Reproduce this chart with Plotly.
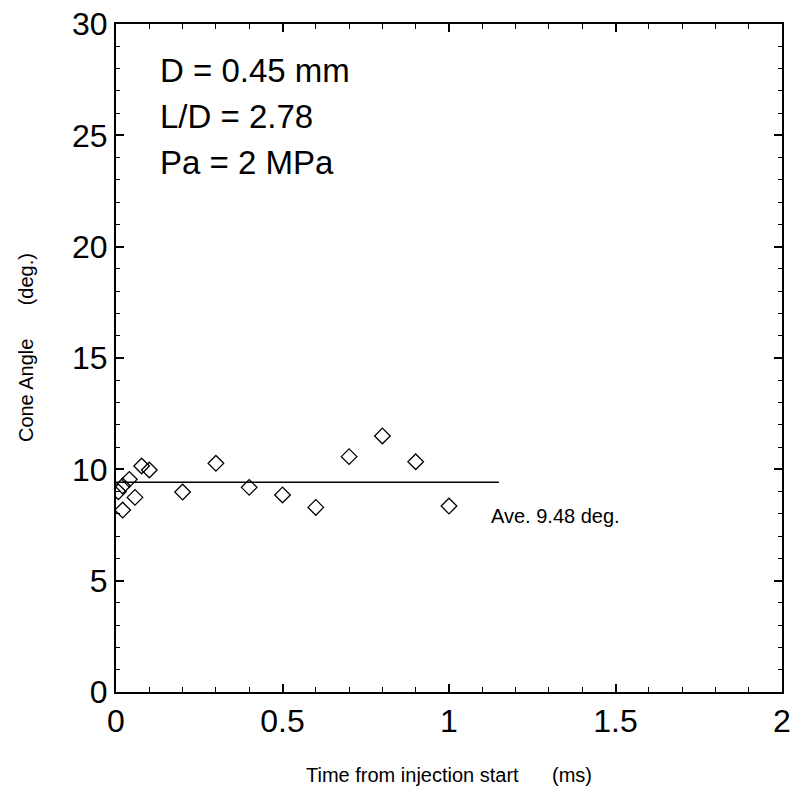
import plotly.graph_objects as go

# Data
time_ms = [0.007, 0.02, 0.04, 0.057, 0.02, 0.077, 0.10, 0.2, 0.3, 0.4, 0.5, 0.6, 0.7, 0.8, 0.9, 1.0]
cone_angle = [8.99, 9.25, 9.55, 8.74, 8.17, 10.15, 9.97, 8.98, 10.27, 9.19, 8.85, 8.29, 10.57, 11.50, 10.34, 8.35]
avg_x = [0.0, 1.15]
avg_y = [9.42, 9.42]
avg_label = "Ave. 9.48 deg."
info_lines = ["D = 0.45 mm", "L/D = 2.78", "Pa = 2 MPa"]
x_ticks = [0, 0.5, 1, 1.5, 2]
x_tick_text = ["0", "0.5", "1", "1.5", "2"]
y_ticks = [0, 5, 10, 15, 20, 25, 30]

FONT = "Liberation Sans, Arial, sans-serif"

fig = go.Figure()
fig.add_trace(go.Scatter(x=avg_x, y=avg_y, mode="lines",
                         line=dict(color="black", width=1.5), showlegend=False))
fig.add_trace(go.Scatter(x=time_ms, y=cone_angle, mode="markers",
                         marker=dict(symbol="diamond-open", size=12, color="black",
                                     line=dict(width=1.3, color="black")),
                         showlegend=False))

fig.add_annotation(x=1.12, y=7.9, xref="x", yref="y", text=avg_label, showarrow=False,
                   xanchor="left", yanchor="middle", font=dict(family=FONT, size=20, color="black"))

for i, t in enumerate(info_lines):
    fig.add_annotation(x=0.126, y=27.9 - i * 2.07, xref="x", yref="y", text=t, showarrow=False,
                       xanchor="left", yanchor="middle", font=dict(family=FONT, size=33, color="black"))

fig.add_annotation(x=0.5, y=-0.124, xref="paper", yref="paper",
                   text="Time from injection start&nbsp;&nbsp;&nbsp;&nbsp;&nbsp;&nbsp;(ms)",
                   showarrow=False, xanchor="center", yanchor="middle",
                   font=dict(family=FONT, size=20, color="black"))
fig.add_annotation(x=-0.134, y=0.516, xref="paper", yref="paper",
                   text="Cone Angle&nbsp;&nbsp;&nbsp;&nbsp;&nbsp;&nbsp;(deg.)", textangle=-90,
                   showarrow=False, xanchor="center", yanchor="middle",
                   font=dict(family=FONT, size=20, color="black"))

axis_common = dict(showgrid=False, zeroline=False, showline=True, linecolor="black", linewidth=2,
                   mirror="allticks", ticks="inside", ticklen=8, tickwidth=1.5, tickcolor="black",
                   automargin=False,
                   tickfont=dict(family=FONT, size=32, color="black"))

fig.update_xaxes(range=[0, 2], tickvals=x_ticks, ticktext=x_tick_text,
                 minor=dict(dtick=0.1, ticks="inside", ticklen=5, tickwidth=1.2, tickcolor="black"),
                 **axis_common)
fig.update_yaxes(range=[0, 30], tickvals=y_ticks,
                 minor=dict(dtick=1, ticks="inside", ticklen=4, tickwidth=1.2, tickcolor="black"),
                 **axis_common)

fig.update_layout(width=794, height=798, margin=dict(l=116, r=12, t=24, b=106),
                  plot_bgcolor="white", paper_bgcolor="white", showlegend=False)

fig.write_html("out.html", config={"displayModeBar": False},
               post_script="document.body.style.margin='0';document.body.style.overflow='hidden';")
